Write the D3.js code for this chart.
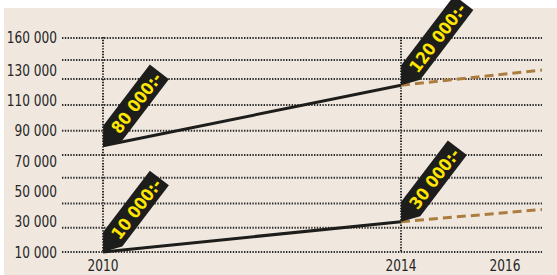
<!DOCTYPE html>
<html>
<head>
<meta charset="utf-8">
<script src="https://cdn.jsdelivr.net/npm/d3@7"></script>
<style>
  html, body { margin: 0; padding: 0; background: #fff; }
  svg { display: block; }
</style>
</head>
<body>
<svg id="chart"></svg>
<script>
// --- data ---
const years = [2010, 2014];
const projectionYears = [2014, 2017];
const highSalary = [80000, 120000];
const highProjection = [120000, 130000];
const lowSalary = [10000, 30000];
const lowProjection = [30000, 38000];

const yTicks = [10000, 30000, 50000, 70000, 90000, 110000, 130000, 160000];
const xTicks = [2010, 2014, 2016];
// dotted guide lines (value positions, not evenly spaced in the original)
const gridValues = [10000, 26000, 42000, 59000, 74000, 90000, 107000, 124000, 139000, 159000];

const width = 557, height = 275;
const svg = d3.select('#chart').attr('width', width).attr('height', height);

const se = d3.formatLocale({ decimal: ',', thousands: ' ', grouping: [3], currency: ['', ''] });
const fmt = se.format(',');

// the original axes are hand-set, so both scales are piecewise
const x = d3.scaleLinear().domain([2010, 2014, 2016, 2017]).range([103, 401, 505, 542]);
const y = d3.scaleLinear().domain([10000, 130000, 160000]).range([252, 70, 37]);

const font = "'Liberation Sans Narrow','DejaVu Sans Condensed','Arial Narrow',sans-serif";
const squeeze = 0.82;

// beige panel
svg.append('rect')
    .attr('x', 4).attr('y', 8)
    .attr('width', width - 4).attr('height', height - 8)
    .attr('fill', '#f0e8de');

// horizontal dotted lines
svg.append('g').selectAll('line')
    .data(gridValues)
    .join('line')
    .attr('x1', 62).attr('x2', x(2017))
    .attr('y1', d => y(d)).attr('y2', d => y(d))
    .attr('stroke', '#2b2b2b')
    .attr('stroke-width', 2)
    .attr('stroke-dasharray', '1.4 1.4');

// vertical dotted lines at the two years
svg.append('g').selectAll('line')
    .data(years)
    .join('line')
    .attr('x1', d => x(d)).attr('x2', d => x(d))
    .attr('y1', y(160000)).attr('y2', y(10000))
    .attr('stroke', '#2b2b2b')
    .attr('stroke-width', 2)
    .attr('stroke-dasharray', '1.4 1.4');

const line = d3.line().x(d => x(d[0])).y(d => y(d[1]));

// projections (dashed)
[highProjection, lowProjection].forEach(vals => {
    svg.append('path')
        .datum(d3.zip(projectionYears, vals))
        .attr('d', line)
        .attr('fill', 'none')
        .attr('stroke', '#ad7d40')
        .attr('stroke-width', 3)
        .attr('stroke-dasharray', '9 5');
});

// actual lines
[highSalary, lowSalary].forEach(vals => {
    svg.append('path')
        .datum(d3.zip(years, vals))
        .attr('d', line)
        .attr('fill', 'none')
        .attr('stroke', '#1d1d1b')
        .attr('stroke-width', 3);
});

// price tags pointing at each point
const tagAngle = -52.7;
const tagPoints = [];
[highSalary, lowSalary].forEach(vals => {
    vals.forEach((v, i) => tagPoints.push({ year: years[i], value: v }));
});

const tags = svg.append('g').selectAll('g')
    .data(tagPoints)
    .join('g')
    .attr('transform', d => `translate(${x(d.year)},${y(d.value)}) rotate(${tagAngle})`);

const tagText = tags.append('text')
    .attr('fill', '#ffe600')
    .attr('font-family', font)
    .attr('font-weight', 'bold')
    .attr('font-size', '17px')
    .attr('text-anchor', 'middle')
    .attr('dominant-baseline', 'central')
    .text(d => fmt(d.value) + ':-');

tags.each(function () {
    const g = d3.select(this);
    const t = g.select('text');
    const len = t.node().getComputedTextLength();
    const L = Math.max(60, len + 6);
    g.insert('path', 'text')
        .attr('d', `M0,0 L16,-12 L${16 + L},-12 L${16 + L},12 L16,12 Z`)
        .attr('fill', '#1d1d1b');
    t.attr('x', 16 + L / 2).attr('y', 0.5);
});

// axes
const yAxis = svg.append('g')
    .attr('transform', 'translate(57,0)')
    .call(d3.axisLeft(y).tickValues(yTicks).tickSize(0).tickPadding(0).tickFormat(fmt));

const xAxis = svg.append('g')
    .attr('transform', 'translate(0,257)')
    .call(d3.axisBottom(x).tickValues(xTicks).tickSize(0).tickPadding(2).tickFormat(d3.format('d')));

svg.selectAll('.domain').remove();
svg.selectAll('.tick text')
    .attr('fill', '#262626')
    .attr('font-family', font)
    .attr('font-size', '16.5px');

yAxis.selectAll('.tick text').attr('transform', `scale(${squeeze},1)`);
xAxis.selectAll('.tick').each(function (d) {
    d3.select(this)
        .attr('transform', null)
        .select('text')
        .attr('text-anchor', 'middle')
        .attr('transform', `translate(${x(d)},0) scale(${squeeze},1)`);
});
</script>
</body>
</html>
